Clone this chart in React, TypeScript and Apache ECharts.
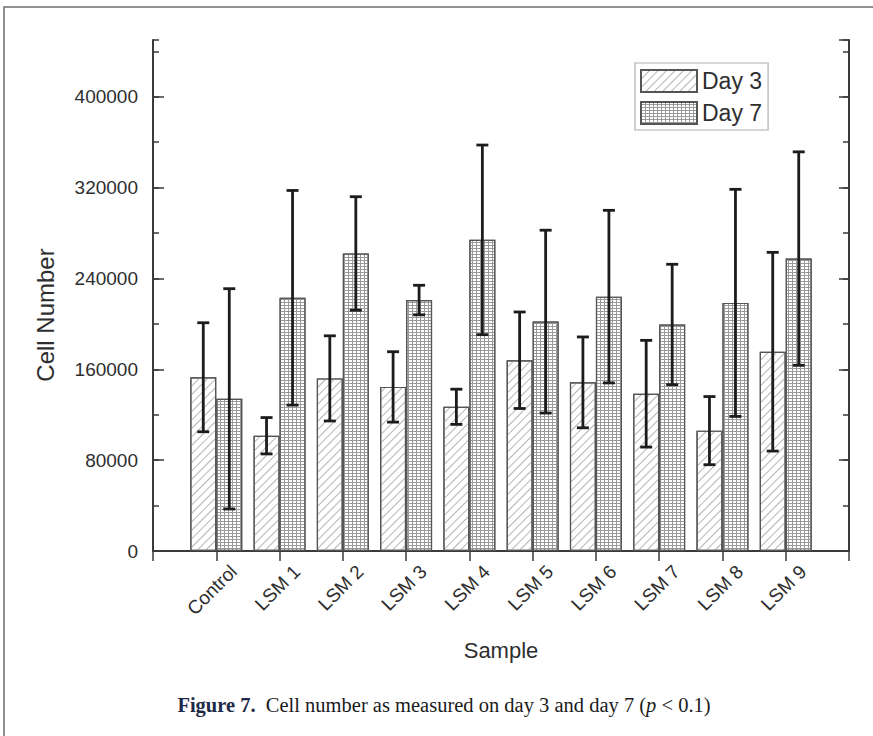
import React, { useEffect, useRef } from 'react';
import * as echarts from 'echarts';

const categories = ['Control', 'LSM 1', 'LSM 2', 'LSM 3', 'LSM 4', 'LSM 5', 'LSM 6', 'LSM 7', 'LSM 8', 'LSM 9'];
const day3 = [153000, 101500, 152000, 144500, 127000, 168000, 148500, 138500, 106000, 175500];
const day3Err = [48000, 16000, 37500, 31000, 15500, 42500, 40000, 47000, 30000, 87500];
const day7 = [134000, 223000, 262000, 221000, 274000, 202000, 224000, 199500, 218500, 257500];
const day7Err = [97000, 94500, 50000, 13000, 83500, 80500, 76000, 53000, 100000, 94000];
const yMin = 0;
const yMax = 450000;
const yMajor = 80000;
const yMinor = 40000;

const SANS = '"Liberation Sans", Arial, Helvetica, sans-serif';
const SERIF = '"Liberation Serif", "Times New Roman", serif';
const AXIS_COLOR = '#3a3a3a';
const TEXT_COLOR = '#2e2e2e';

export default function App() {
  const ref = useRef<HTMLDivElement>(null);
  useEffect(() => {
    if (!ref.current) return;
    const chart = echarts.init(ref.current, null, { renderer: 'svg' });
    const paddedCats = ['', ...categories, ''];
    const pad = (arr: number[]) => [null, ...arr, null];

    const errData = (vals: number[], errs: number[]) =>
      vals.map((v, i) => [i + 1, v, errs[i]]);

    const makeErr = (offset: number) => (params: any, api: any) => {
      const x = api.value(0);
      const v = api.value(1);
      const e = api.value(2);
      const top = api.coord([x, v + e]);
      const bot = api.coord([x, v - e]);
      const cx = top[0] + offset;
      const cap = 6;
      const style = { stroke: '#1c1c1c', lineWidth: 2.8 };
      return {
        type: 'group',
        children: [
          { type: 'line', shape: { x1: cx, y1: top[1], x2: cx, y2: bot[1] }, style },
          { type: 'line', shape: { x1: cx - cap, y1: top[1], x2: cx + cap, y2: top[1] }, style },
          { type: 'line', shape: { x1: cx - cap, y1: bot[1], x2: cx + cap, y2: bot[1] }, style },
        ],
      };
    };

    const valueAxisBase = {
      type: 'value',
      min: yMin,
      max: yMax,
      splitLine: { show: false },
    };

    const option: any = {
      animation: false,
      backgroundColor: '#ffffff',
      grid: { left: 153, right: 24, top: 40, bottom: 185, containLabel: false },
      legend: {
        data: ['Day 3', 'Day 7'],
        orient: 'vertical',
        left: 635,
        top: 63,
        icon: 'rect',
        itemWidth: 56,
        itemHeight: 22,
        itemGap: 8,
        padding: [6, 6, 5, 5],
        borderColor: '#b0b0b0',
        borderWidth: 1.2,
        textStyle: { fontSize: 23, color: TEXT_COLOR, fontFamily: SANS },
      },
      xAxis: [
        {
          type: 'category',
          position: 'bottom',
          data: paddedCats,
          boundaryGap: false,
          axisLine: { lineStyle: { color: AXIS_COLOR, width: 2 } },
          axisTick: { show: true, inside: true, length: 10, interval: 0, lineStyle: { color: AXIS_COLOR, width: 1.5 } },
          axisLabel: {
            interval: 0,
            rotate: 45,
            margin: 0,
            align: 'right',
            verticalAlign: 'top',
            padding: [15, 0, 0, 0],
            fontSize: 19,
            color: TEXT_COLOR,
            fontFamily: SANS,
          },
          name: 'Sample',
          nameLocation: 'middle',
          nameGap: 88,
          nameTextStyle: { fontSize: 22, color: TEXT_COLOR, fontFamily: SANS },
        },
        {
          type: 'category',
          position: 'top',
          data: paddedCats,
          boundaryGap: false,
          axisLine: { show: true, lineStyle: { color: AXIS_COLOR, width: 2 } },
          axisTick: { show: true, inside: true, length: 10, interval: 0, lineStyle: { color: AXIS_COLOR, width: 1.5 } },
          axisLabel: { show: false },
        },
      ],
      yAxis: [
        {
          ...valueAxisBase,
          position: 'left',
          interval: yMajor,
          axisLine: { show: true, lineStyle: { color: AXIS_COLOR, width: 2 } },
          axisTick: { show: true, inside: true, length: 11, lineStyle: { color: AXIS_COLOR, width: 1.5 } },
          axisLabel: {
            showMaxLabel: false,
            margin: 15,
            fontSize: 19,
            color: TEXT_COLOR,
            fontFamily: SANS,
            formatter: (v: number) => String(v),
          },
        },
        {
          ...valueAxisBase,
          position: 'left',
          interval: yMinor,
          axisLine: { show: false },
          axisTick: { show: true, inside: true, length: 6, lineStyle: { color: AXIS_COLOR, width: 1.5 } },
          axisLabel: { show: false },
        },
        {
          ...valueAxisBase,
          position: 'right',
          interval: yMajor,
          axisLine: { show: true, lineStyle: { color: AXIS_COLOR, width: 2 } },
          axisTick: { show: true, inside: true, length: 10, lineStyle: { color: AXIS_COLOR, width: 1.5 } },
          axisLabel: { show: false },
        },
        {
          ...valueAxisBase,
          position: 'right',
          interval: yMinor,
          axisLine: { show: false },
          axisTick: { show: true, inside: true, length: 6, lineStyle: { color: AXIS_COLOR, width: 1.5 } },
          axisLabel: { show: false },
        },
      ],
      graphic: [
        {
          type: 'rect',
          shape: { x: 4, y: 7, width: 900, height: 800 },
          style: { fill: 'none', stroke: '#6e6e6e', lineWidth: 1.5 },
          z: -10,
          silent: true,
        },
        {
          type: 'text',
          x: 45,
          y: 315,
          rotation: Math.PI / 2,
          style: {
            text: 'Cell Number',
            fontSize: 24,
            fontFamily: SANS,
            fill: TEXT_COLOR,
            align: 'center',
            verticalAlign: 'middle',
          },
        },
        {
          type: 'text',
          x: 444,
          y: 705,
          style: {
            text: '{b|Figure 7.}  Cell number as measured on day 3 and day 7 ({i|p} < 0.1)',
            fontSize: 20.5,
            fontFamily: SERIF,
            fill: '#1a1a1a',
            align: 'center',
            verticalAlign: 'middle',
            rich: {
              b: { fontWeight: 'bold', fontSize: 20.5, fontFamily: SERIF, fill: '#1f2a48' },
              i: { fontStyle: 'italic', fontSize: 20.5, fontFamily: SERIF, fill: '#1a1a1a' },
            },
          },
        },
      ],
      series: [
        {
          name: 'Day 3',
          type: 'bar',
          xAxisIndex: 0,
          yAxisIndex: 0,
          data: pad(day3),
          barWidth: 26,
          barGap: '0%',
          itemStyle: {
            color: '#ffffff',
            borderColor: '#555555',
            borderWidth: 1.2,
            decal: {
              symbol: 'rect',
              symbolSize: 1,
              color: '#b4b4b4',
              dashArrayX: [1, 0],
              dashArrayY: [1, 4.5],
              rotation: -Math.PI / 4,
            },
          },
        },
        {
          name: 'Day 7',
          type: 'bar',
          xAxisIndex: 0,
          yAxisIndex: 0,
          data: pad(day7),
          barWidth: 26,
          barGap: '0%',
          itemStyle: {
            color: '#ffffff',
            borderColor: '#555555',
            borderWidth: 1.2,
            decal: {
              symbol: 'rect',
              symbolSize: 1,
              color: '#9a9a9a',
              dashArrayX: [[4, 0], [1, 3], [1, 3]],
              dashArrayY: [1, 0],
              rotation: 0,
            },
          },
        },
        {
          name: 'Day 3 error',
          type: 'custom',
          xAxisIndex: 0,
          yAxisIndex: 0,
          data: errData(day3, day3Err),
          encode: { x: 0, y: 1 },
          renderItem: makeErr(-13),
          z: 5,
        },
        {
          name: 'Day 7 error',
          type: 'custom',
          xAxisIndex: 0,
          yAxisIndex: 0,
          data: errData(day7, day7Err),
          encode: { x: 0, y: 1 },
          renderItem: makeErr(13),
          z: 5,
        },
      ],
    };
    chart.setOption(option);
    return () => chart.dispose();
  }, []);
  return (
    <div
      ref={ref}
      style={{ position: 'fixed', left: 0, top: 0, width: 873, height: 736, background: '#fff' }}
    />
  );
}
